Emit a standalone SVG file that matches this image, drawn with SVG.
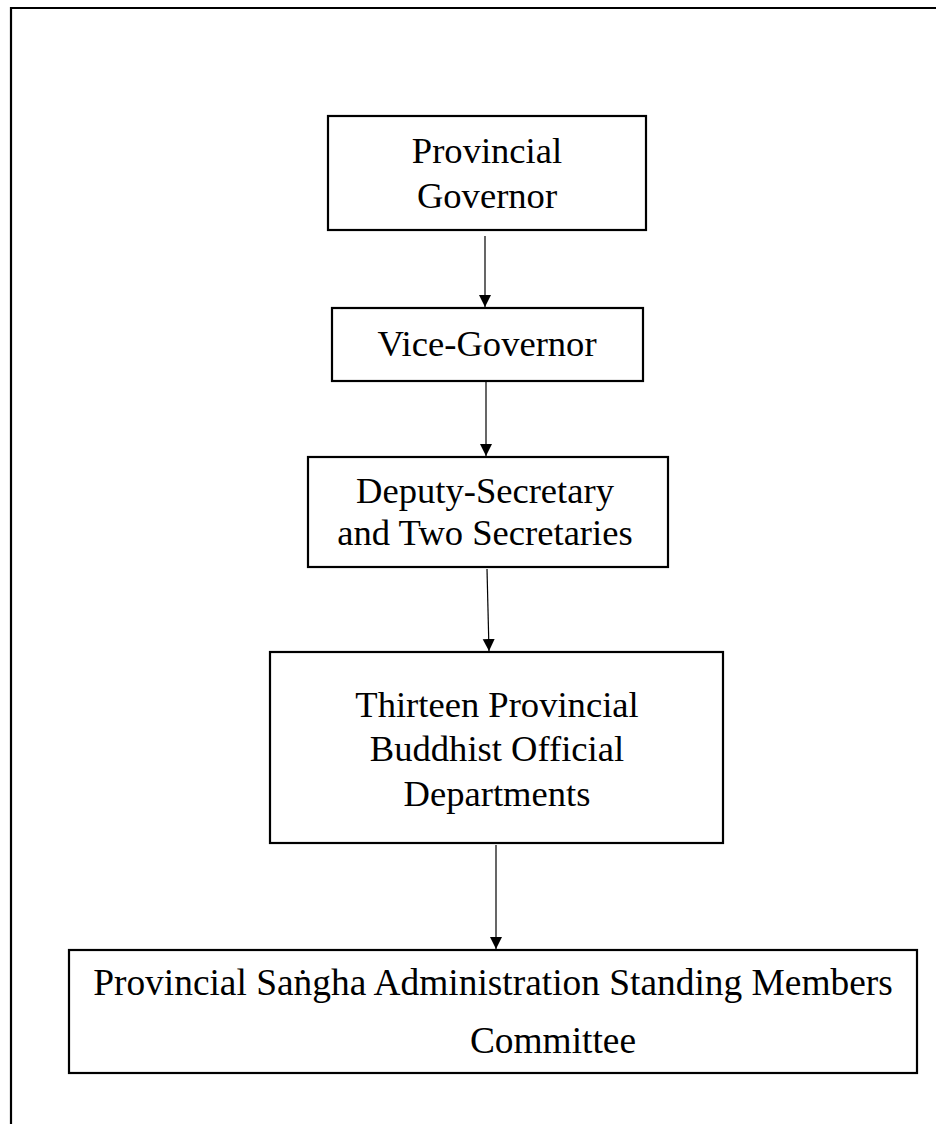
<svg xmlns="http://www.w3.org/2000/svg" width="936" height="1124" viewBox="0 0 936 1124">
  <style>
    .box { fill: #ffffff; stroke: #000000; stroke-width: 2.2; }
    .frame { fill: none; stroke: #000000; stroke-width: 2.2; }
    .link { fill: none; stroke: #000000; stroke-width: 1.2; marker-end: url(#arrow); }
    text { font-family: "Liberation Serif", "Times New Roman", serif; font-size: 36.6px; fill: #000000; text-anchor: middle; }
    .wide text { font-size: 37.4px; }
  </style>
  <defs>
    <marker id="arrow" viewBox="0 0 12 15" refX="12" refY="6" markerWidth="12" markerHeight="15" markerUnits="userSpaceOnUse" orient="auto">
      <path d="M0,0 L12,6 L0,12 Z" fill="#000000"/>
    </marker>
  </defs>
  <rect x="0" y="0" width="936" height="1124" fill="#ffffff"/>

  <!-- open page frame: top and left edges -->
  <path class="frame" d="M11,1124 L11,8 L936,8"/>

  <g id="connectors">
    <line class="link" x1="485" y1="236" x2="485" y2="307"/>
    <line class="link" x1="486" y1="382" x2="486" y2="456"/>
    <line class="link" x1="487" y1="569" x2="489" y2="651"/>
    <line class="link" x1="496" y1="845" x2="496" y2="949"/>
  </g>

  <g id="provincial-governor">
    <rect class="box" x="328" y="116" width="318" height="114"/>
    <text x="487" y="163">Provincial</text>
    <text x="487" y="208">Governor</text>
  </g>

  <g id="vice-governor">
    <rect class="box" x="332" y="308" width="311" height="73"/>
    <text x="487" y="356">Vice-Governor</text>
  </g>

  <g id="deputy-secretary">
    <rect class="box" x="308" y="457" width="360" height="110"/>
    <text x="485" y="503">Deputy-Secretary</text>
    <text x="485" y="545">and Two Secretaries</text>
  </g>

  <g id="buddhist-departments">
    <rect class="box" x="270" y="652" width="453" height="191"/>
    <text x="497" y="717">Thirteen Provincial</text>
    <text x="497" y="761">Buddhist Official</text>
    <text x="497" y="806">Departments</text>
  </g>

  <g id="sangha-committee" class="wide">
    <rect class="box" x="69" y="950" width="848" height="123"/>
    <text x="493" y="995">Provincial Saṅgha Administration Standing Members</text>
    <text x="553" y="1053">Committee</text>
  </g>
</svg>
